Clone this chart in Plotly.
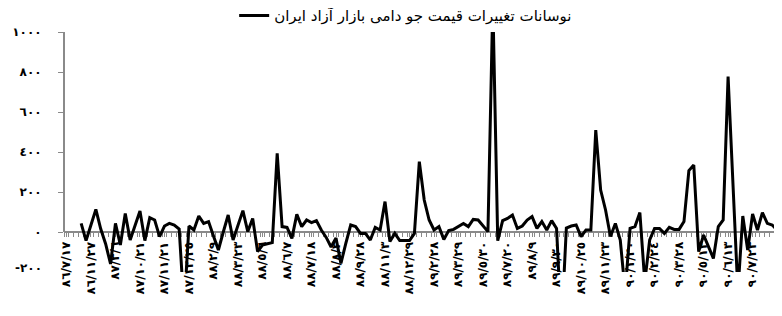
import plotly.graph_objects as go

# ---- data ----
series_name = "نوسانات تغییرات قیمت جو دامی بازار آزاد ایران"

date_labels = [
    "٨٦/٧/١٧", "٨٦/١١/٢٧", "٨٧/٣/٦", "٨٧/١٠/٢١", "٨٧/١١/٢١", "٨٧/١٢/٢٥",
    "٨٨/٢/٩", "٨٨/٣/٢٣", "٨٨/٥/٦", "٨٨/٦/٧", "٨٨/٧/١٨", "٨٨/٨/٣",
    "٨٨/٩/٢٨", "٨٨/١١/٣", "٨٨/١٢/٢٩", "٨٩/٢/٢٨", "٨٩/٣/٢٩", "٨٩/٥/٣٠",
    "٨٩/٧/٢٠", "٨٩/٨/٩", "٨٩/٩/٣٠", "٨٩/١٠/٢٥", "٨٩/١١/٢٣", "٩٠/١/٢٠",
    "٩٠/٢/٢٤", "٩٠/٣/٢٨", "٩٠/٥/١٢", "٩٠/٦/١٣", "٩٠/٧/٢٣", "٩٠/٨/٢٧",
]
label_step = 5

values = [
    None, None, None, 43, -43, 35, 113, 15, -60, -160,
    43, -65, 93, -40, 30, 105, -43, 72, 60, -23,
    30, 43, 35, 15, -380, 30, 10, 80, 43, 52,
    -20, -90, 0, 85, -40, 33, 107, 2, 68, -98,
    -65, -59, -53, 393, 27, 23, -32, 88, 27, 60,
    47, 57, 10, -27, -75, -30, -157, -57, 35, 27,
    -7, -7, -40, 23, 10, 152, -48, -7, -43, -43,
    -43, -7, 352, 160, 60, 10, 27, -37, 7, 13,
    30, 43, 27, 63, 60, 30, 2, 1150, -43, 57,
    68, 85, 18, 30, 60, 77, 18, 52, 10, 57,
    18, -480, 20, 30, 35, -23, 10, 10, 510, 210,
    110, -23, 43, -40, -300, 18, 27, 97, -250, -40,
    18, 18, -7, 23, 13, 13, 52, 307, 335, -98,
    -15, -73, -132, 27, 60, 777, 230, -300, 80, -90,
    90, 10, 97, 43, 35, 10, 43, 20,
]

y_tick_values = [0, 200, 400, 600, 800, 1000]
y_tick_text = ["٠", "٢٠٠", "٤٠٠", "٦٠٠", "٨٠٠", "١٠٠٠"]
y_min_label = "-٢٠٠"
y_range = [-200, 1000]

# ---- figure ----
x_idx = list(range(len(values)))
label_pos = [i * label_step for i in range(len(date_labels))]

AXIS_GREY = "#8a8a8a"
FONT = "DejaVu Sans"

fig = go.Figure()
fig.add_trace(go.Scatter(
    x=x_idx, y=values, mode="lines", name=series_name,
    line=dict(color="black", width=3),
    connectgaps=False,
))

# page body has an 8px default margin, so the figure is 774x308
fig.update_layout(
    width=774, height=308,
    margin=dict(l=56, r=0, t=24, b=44, autoexpand=False),
    paper_bgcolor="white", plot_bgcolor="white",
    showlegend=True,
    legend=dict(
        orientation="h", x=0.237, xanchor="left", y=1.0675, yanchor="middle",
        font=dict(family=FONT, size=15, color="black"),
        bgcolor="rgba(0,0,0,0)", itemwidth=30,
    ),
    font=dict(family=FONT, color="black"),
)

zero_frac = (0 - y_range[0]) / (y_range[1] - y_range[0])

fig.update_xaxes(
    range=[-0.5, 146.0],
    anchor="free", position=zero_frac,
    showgrid=False, zeroline=False,
    showline=True, linecolor=AXIS_GREY, linewidth=2,
    tickmode="array", tickvals=label_pos, ticktext=date_labels,
    tickangle=-90,
    ticks="outside", ticklen=4, tickcolor=AXIS_GREY, tickwidth=1,
    minor=dict(ticks="outside", ticklen=4, tickcolor=AXIS_GREY, dtick=1, tick0=0.5, tickwidth=1),
    tickfont=dict(family=FONT, size=12, color="black", weight="bold"),
    layer="below traces",
    automargin=False,
)

fig.update_yaxes(
    range=y_range,
    showgrid=False, zeroline=False, showline=False,
    tickmode="array", tickvals=y_tick_values, ticktext=y_tick_text,
    ticks="outside", ticklen=5, tickcolor=AXIS_GREY, tickwidth=1,
    ticklabelstandoff=14,
    tickfont=dict(family=FONT, size=12, color="black", weight="bold"),
    layer="below traces",
    automargin=False,
)

# vertical axis line only from 0 up to the top, as in the reference
fig.add_shape(type="line", xref="paper", yref="y", x0=0, x1=0,
              y0=0, y1=y_range[1], line=dict(color=AXIS_GREY, width=2),
              layer="below")

fig.add_annotation(xref="paper", yref="y", x=0, y=y_range[0],
                   text=y_min_label, showarrow=False, xanchor="right",
                   xshift=-20, yshift=4,
                   font=dict(family=FONT, size=12, color="black", weight="bold"))

fig.write_html("out.html")
